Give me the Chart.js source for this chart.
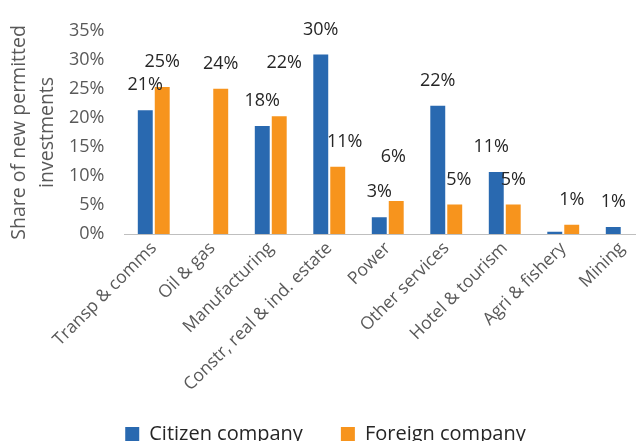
<!DOCTYPE html>
<html>
<head>
<meta charset="utf-8">
<script src="https://cdn.jsdelivr.net/npm/chart.js@4.4.1/dist/chart.umd.min.js"></script>
<style>
    html, body { margin: 0; padding: 0; background: #fff; overflow: hidden; }
    #wrap { width: 636px; height: 441px; overflow: hidden; }
</style>
</head>
<body>
<div id="wrap"><canvas id="bloomChart" width="668" height="454"></canvas></div>
<script>
// ==========================
// Data
// ==========================
const sectors = ["Transp & comms", "Oil & gas", "Manufacturing", "Constr, real & ind. estate",
    "Power", "Other services", "Hotel & tourism", "Agri & fishery", "Mining"];
const citizenShare = [21.3, null, 18.6, 30.9, 2.9, 22.1, 10.7, 0.4, 1.2];
const foreignShare = [25.3, 25.0, 20.3, 11.6, 5.7, 5.1, 5.1, 1.6, null];
// printed labels (they do not always agree with the bar heights)
const citizenLabels = [21, null, 18, 30, 3, 22, 11, null, 1];
const foreignLabels = [25, 24, 22, 11, 6, 5, 5, 1, null];
const yTicks = [0, 5, 10, 15, 20, 25, 30, 35];

const FONT = "'Open Sans', sans-serif";
const GREY = "#595959";

// ==========================
// Value labels above the bars
// ==========================
const barLabels = {
    id: "barLabels",
    afterLayout(chart) {
        // let the long rotated category labels run past the axis box
        chart.scales.x.bottom += 30;
    },
    afterDatasetsDraw(chart, args, opts) {
        const ctx = chart.ctx;
        ctx.save();
        ctx.font = `${opts.size}px ${FONT}`;
        ctx.fillStyle = opts.color;
        ctx.textAlign = "center";
        ctx.textBaseline = "middle";
        chart.data.datasets.forEach((ds, di) => {
            chart.getDatasetMeta(di).data.forEach((bar, i) => {
                const v = ds.labels[i];
                if (v === null) return;
                const n = opts.nudge[di + ":" + i] || [0, 0];
                ctx.fillText(v + "%", bar.x + n[0], bar.y - opts.lift + n[1]);
            });
        });
        ctx.restore();
    }
};

const ctx = document.getElementById("bloomChart").getContext("2d");
const bloomChart = new Chart(ctx, {
    type: "bar",
    data: {
        labels: sectors,
        datasets: [{
            label: "Citizen company",
            data: citizenShare,
            labels: citizenLabels,
            backgroundColor: "#2969b0",
            borderWidth: 0,
            categoryPercentage: 0.58,
            barPercentage: 0.88
        }, {
            label: "Foreign company",
            data: foreignShare,
            labels: foreignLabels,
            backgroundColor: "#f7941d",
            borderWidth: 0,
            categoryPercentage: 0.58,
            barPercentage: 0.88
        }]
    },
    options: {
        responsive: false,
        animation: false,
        devicePixelRatio: 1,
        layout: { padding: { top: 29, right: 17, left: 0, bottom: 0 } },
        plugins: {
            tooltip: { enabled: false },
            legend: {
                position: "bottom",
                labels: {
                    boxWidth: 14,
                    boxHeight: 14,
                    padding: 38,
                    color: "#262626",
                    font: { family: FONT, size: 20 }
                }
            },
            barLabels: {
                size: 18,
                color: "#262626",
                lift: 25,
                nudge: { "1:2": [5, -28], "1:4": [-3, -19], "1:3": [7, 0], "0:6": [-5, 0], "1:5": [4, 0] }
            }
        },
        scales: {
            x: {
                grid: { display: false, drawTicks: false },
                border: { display: true, color: "#bfbfbf", width: 1 },
                ticks: {
                    color: GREY,
                    font: { family: FONT, size: 17.5 },
                    minRotation: 45,
                    maxRotation: 45,
                    autoSkip: false,
                    padding: 4
                },
                afterFit(scale) { scale.height = 152; }
            },
            y: {
                min: 0,
                max: 35,
                grid: { display: false, drawTicks: false },
                border: { display: false },
                afterBuildTicks(scale) { scale.ticks = yTicks.map(v => ({ value: v })); },
                ticks: {
                    color: GREY,
                    font: { family: FONT, size: 18 },
                    padding: 20,
                    callback: v => v + "%"
                },
                title: {
                    display: true,
                    text: ["Share of new permitted", "investments"],
                    color: GREY,
                    font: { family: FONT, size: 19.5, lineHeight: 1.4 },
                    padding: { top: 6, bottom: 0 }
                },
                afterFit(scale) { scale.width = 124.5; }
            }
        }
    },
    plugins: [barLabels]
});
</script>
</body>
</html>
